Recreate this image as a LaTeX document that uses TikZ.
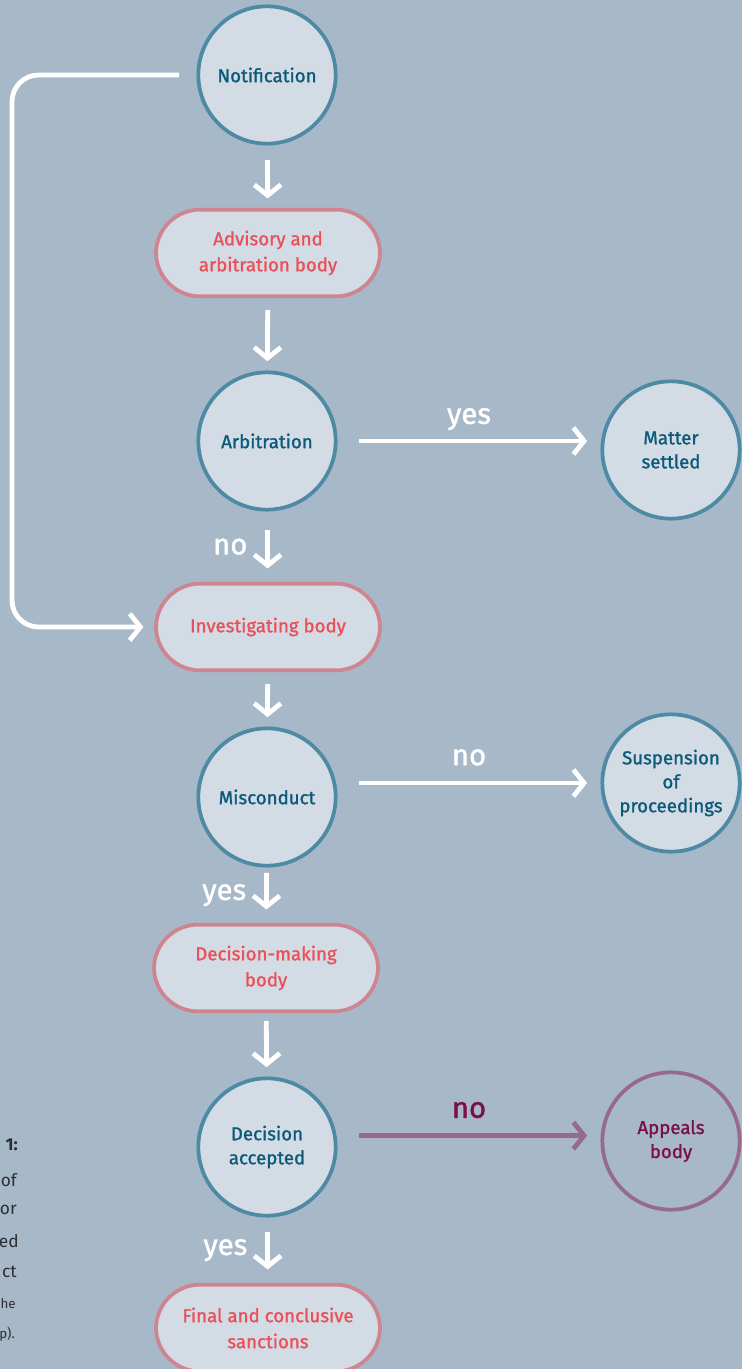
\documentclass[tikz,border=0pt]{standalone}
\usepackage{fontspec}
\setmainfont{Fira Sans}
\newfontfamily\medfont{Fira Sans}[FakeBold=1.3]
\usetikzlibrary{arrows.meta}

\definecolor{bgblue}{HTML}{A7B8C8}
\definecolor{boxfill}{HTML}{D3DCE5}
\definecolor{ringblue}{HTML}{4F8AA4}
\definecolor{txtblue}{HTML}{0C5A79}
\definecolor{ringpink}{HTML}{CF8590}
\definecolor{txtpink}{HTML}{EA5059}
\definecolor{ringplum}{HTML}{966A8D}
\definecolor{txtplum}{HTML}{7C0E48}
\definecolor{captxt}{HTML}{2B2F35}

\begin{document}
\begin{tikzpicture}[x=0.75pt,y=-0.75pt,
  state/.style={circle,draw=ringblue,line width=2.8pt,fill=boxfill,minimum size=103pt,
    inner sep=0pt,align=center,text=txtblue,font=\medfont\fontsize{14}{18}\selectfont},
  body/.style={rounded corners=33pt,draw=ringpink,line width=2.8pt,fill=boxfill,
    minimum width=168pt,minimum height=65pt,align=center,text=txtpink,
    font=\medfont\fontsize{14}{19.5}\selectfont},
  flow/.style={draw=white,line width=3.6pt,-{Straight Barb[length=8pt,width=20pt]}},
  lbl/.style={text=white,font=\medfont\fontsize{22}{26}\selectfont},
  captext/.style={anchor=east,inner sep=0pt,text=captxt,font=\fontsize{13}{16}\selectfont}]
\fill[bgblue] (0,0) rectangle (742,1369);
\useasboundingbox (0,0) rectangle (742,1369);

% main column
\node[state] (notif) at (267,75) {Notification};
\node[body] (advisory) at (268,253) {Advisory and\\arbitration body};
\node[state] (arbit) at (267,441) {Arbitration};
\node[body] (invest) at (268,627) {Investigating body};
\node[state] (miscond) at (267,797) {Misconduct};
\node[body] (decmaking) at (266,968) {Decision-making\\body};
\node[state] (accepted) at (267,1147) {Decision\\accepted};
\node[body] (final) at (268,1328) {Final and conclusive\\sanctions};

% outcomes
\node[state] (settled) at (671,450) {Matter\\settled};
\node[state] (suspend) at (671,783) {Suspension\\of\\proceedings};
\node[state,draw=ringplum,fill=none,text=txtplum] (appeals) at (671,1141) {Appeals\\body};
\coordinate (appin) at ([yshift=4pt]appeals.west);

% arrows down
\draw[flow,shorten <=11pt,shorten >=7pt] (notif) -- (advisory);
\draw[flow,shorten <=9pt,shorten >=7pt] (advisory) -- (arbit);
\draw[flow,shorten <=14pt,shorten >=10pt] (arbit) -- node[lbl,left=10pt] {no} (invest);
\draw[flow,shorten <=9pt,shorten >=7pt] (invest) -- (miscond);
\draw[flow,shorten <=4pt,shorten >=10pt] (miscond) -- node[lbl,left=10pt] {yes} (decmaking);
\draw[flow,shorten <=6pt,shorten >=7pt] (decmaking) -- (accepted);
\draw[flow,shorten <=11pt,shorten >=10pt] (accepted) -- node[lbl,left=10pt] {yes} (final);

% arrows across
\draw[flow,shorten <=16pt,shorten >=10pt] (arbit.east) -- node[lbl,above=3pt] {yes} (arbit.east -| settled.west);
\draw[flow,shorten <=16pt,shorten >=10pt] (miscond.east |- suspend.west) -- node[lbl,above=8pt] {no} (suspend.west);
\draw[flow,draw=ringplum,shorten <=16pt,shorten >=10pt] (accepted.east |- appin) -- node[lbl,above=8pt,text=txtplum] {no} (appin);

% loop back
\coordinate (loop) at (12,0);
\draw[flow,rounded corners=20pt,shorten <=13pt,shorten >=8pt] (notif.west) -| (loop |- invest.west) -- (invest.west);

% caption, cut off at the left
\node[captext,font=\bfseries\fontsize{13}{16}\selectfont] (c1) at (18,1145) {1:};
\node[captext] (c2) at (17,1180) {of};
\node[captext] (c3) at (17,1210) {or};
\node[captext] (c4) at (19,1241) {ed};
\node[captext] (c5) at (17,1272) {ct};
\node[captext,font=\fontsize{10}{12}\selectfont] (c6) at (16,1304) {he};
\node[captext,font=\fontsize{10}{12}\selectfont] (c7) at (15,1334) {p).};
\end{tikzpicture}
\end{document}
